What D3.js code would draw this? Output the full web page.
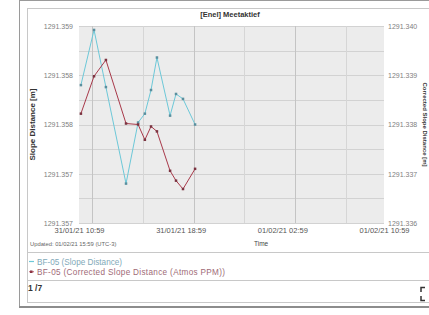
<!DOCTYPE html>
<html><head><meta charset="utf-8">
<script src="https://cdn.jsdelivr.net/npm/d3@7"></script>
<style>
body{margin:0;background:#fff;}
svg{display:block;font-family:"Liberation Sans",Arial,sans-serif;}
</style>
</head><body>
<svg id="c" width="429" height="315"></svg>
<script>
// ---- data ----
const times = ["2021-01-31T11:08","2021-01-31T12:10","2021-01-31T13:06","2021-01-31T14:41","2021-01-31T15:38","2021-01-31T16:10",
               "2021-01-31T16:39","2021-01-31T17:07","2021-01-31T18:09","2021-01-31T18:37","2021-01-31T19:10","2021-01-31T20:07"];
const slopeDistance = [1291.35840,1291.35896,1291.35838,1291.35740,1291.35802,1291.35811,
                       1291.35835,1291.35868,1291.35809,1291.35831,1291.35826,1291.35800];
const correctedSlopeDistance = [1291.33822,1291.33898,1291.33931,1291.33802,1291.33800,1291.33769,
                                1291.33796,1291.33786,1291.33706,1291.33686,1291.33669,1291.33710];
const leftTickValues = [1291.359,1291.3585,1291.358,1291.3575,1291.357];
const leftTickLabels = ["1291.359","1291.358","1291.358","1291.357","1291.357"];
const rightTickValues = [1291.340,1291.339,1291.338,1291.337,1291.336];
const rightTickLabels = ["1291.340","1291.339","1291.338","1291.337","1291.336"];
const xTickTimes = ["2021-01-31T10:59","2021-01-31T18:59","2021-02-01T02:59","2021-02-01T10:59"];
const xTickLabels = ["31/01/21 10:59","31/01/21 18:59","01/02/21 02:59","01/02/21 10:59"];
const seriesNames = ["BF-05 (Slope Distance)","BF-05 (Corrected Slope Distance (Atmos PPM))"];
const chartTitle = "[Enel] Meetaktief";
const updatedText = "Updated: 01/02/21 15:59 (UTC-3)";
const pageText = "1 /7";

// ---- layout ----
const svg = d3.select("#c");
const parse = d3.isoParse;
const P = {l:79, r:384, t:26, b:223};
const x = d3.scaleTime().domain([parse(xTickTimes[0]), parse(xTickTimes[xTickTimes.length-1])]).range([P.l,P.r]);
const yL = d3.scaleLinear().domain([1291.357,1291.359]).range([P.b,P.t]);
const yR = d3.scaleLinear().domain([1291.336,1291.340]).range([P.b,P.t]);
const cCyan = "#6cc8d8", cCyanM = "#5a8f9e", cRed = "#a8394a", cRedM = "#7b3340";

// frames
svg.append("rect").attr("x",19.5).attr("y",0.5).attr("width",420).attr("height",306).attr("fill","#fff").attr("stroke","#9a9a9a").attr("stroke-width",1);
svg.append("line").attr("x1",19).attr("x2",429).attr("y1",307).attr("y2",307).attr("stroke","#8c8c8c").attr("stroke-width",2);
svg.append("rect").attr("x",27.5).attr("y",8.5).attr("width",410).attr("height",294).attr("fill","#fff").attr("stroke","#c8c8c8");
svg.append("line").attr("x1",27).attr("x2",429).attr("y1",252.5).attr("y2",252.5).attr("stroke","#c8c8c8");
svg.append("line").attr("x1",27).attr("x2",429).attr("y1",280.5).attr("y2",280.5).attr("stroke","#c8c8c8");

// plot background
svg.append("rect").attr("x",P.l).attr("y",P.t).attr("width",P.r-P.l).attr("height",P.b-P.t).attr("fill","#ececec");

// grid
const hGrid = d3.range(0,9).map(i=>1291.357+i*0.00025);
svg.append("g").selectAll("line").data(hGrid).join("line")
  .attr("x1",P.l).attr("x2",P.r).attr("y1",d=>Math.round(yL(d))+0.5).attr("y2",d=>Math.round(yL(d))+0.5)
  .attr("stroke","#d2d2d2");
const vGrid = d3.timeHour.every(4).range(parse(xTickTimes[0]), d3.timeMinute.offset(parse(xTickTimes[xTickTimes.length-1]),1));
svg.append("g").selectAll("line").data(vGrid).join("line")
  .attr("x1",d=>Math.round(x(d))+0.5).attr("x2",d=>Math.round(x(d))+0.5).attr("y1",P.t).attr("y2",P.b)
  .attr("stroke",(d,i)=>i%2===0?"#c4c4c4":"#d6d6d6");

// axes
const axL = d3.axisLeft(yL).tickValues(leftTickValues).tickFormat((d,i)=>leftTickLabels[i]).tickSize(0).tickPadding(6);
const gL = svg.append("g").attr("transform",`translate(${P.l},0)`).call(axL);
const axR = d3.axisRight(yR).tickValues(rightTickValues).tickFormat((d,i)=>rightTickLabels[i]).tickSize(0).tickPadding(4);
const gR = svg.append("g").attr("transform",`translate(${P.r},0)`).call(axR);
const axB = d3.axisBottom(x).tickValues(xTickTimes.map(parse)).tickFormat((d,i)=>xTickLabels[i]).tickSize(0).tickPadding(5);
const gB = svg.append("g").attr("transform",`translate(0,${P.b})`).call(axB);
[gL,gR,gB].forEach(g=>{g.select(".domain").remove();g.selectAll("text").attr("font-size",7).attr("fill","#808080").attr("font-family","Liberation Sans, Arial, sans-serif");});
gB.selectAll("text").attr("fill","#555").attr("font-size",7.5);

// axis titles
svg.append("text").attr("transform",`translate(35,${(P.t+P.b)/2}) rotate(-90)`).attr("text-anchor","middle")
  .attr("font-size",8).attr("font-weight","bold").attr("fill","#333").text("Slope Distance [m]");
svg.append("text").attr("transform",`translate(423,${(P.t+P.b)/2}) rotate(90)`).attr("text-anchor","middle")
  .attr("font-size",6).attr("font-weight","bold").attr("fill","#333").text("Corrected Slope Distance [m]");
svg.append("text").attr("x",230).attr("y",17).attr("text-anchor","middle").attr("font-size",7.5).attr("font-weight","bold").attr("fill","#333").text(chartTitle);
svg.append("text").attr("x",254).attr("y",246).attr("font-size",6.5).attr("fill","#444").text("Time");
svg.append("text").attr("x",30).attr("y",246).attr("font-size",5.8).attr("fill","#666").text(updatedText);

// series
const pts1 = times.map((t,i)=>[parse(t),slopeDistance[i]]);
const pts2 = times.map((t,i)=>[parse(t),correctedSlopeDistance[i]]);
const line1 = d3.line().x(d=>x(d[0])).y(d=>yL(d[1]));
const line2 = d3.line().x(d=>x(d[0])).y(d=>yR(d[1]));
svg.append("path").attr("d",line1(pts1)).attr("fill","none").attr("stroke",cCyan).attr("stroke-width",1);
svg.append("path").attr("d",line2(pts2)).attr("fill","none").attr("stroke",cRed).attr("stroke-width",1);
svg.append("g").selectAll("rect").data(pts1).join("rect")
  .attr("x",d=>x(d[0])-1.25).attr("y",d=>yL(d[1])-1.25).attr("width",2.5).attr("height",2.5).attr("fill",cCyanM);
svg.append("g").selectAll("rect").data(pts2).join("rect")
  .attr("x",d=>x(d[0])-1.25).attr("y",d=>yR(d[1])-1.25).attr("width",2.5).attr("height",2.5).attr("fill",cRedM);

// legend
svg.append("line").attr("x1",29).attr("x2",34).attr("y1",261.5).attr("y2",261.5).attr("stroke",cCyan).attr("stroke-width",1.2);
svg.append("text").attr("x",37).attr("y",264.5).attr("font-size",8.2).attr("fill","#7fa9b8").text(seriesNames[0]);
svg.append("rect").attr("x",30).attr("y",270.5).attr("width",2.5).attr("height",2.5).attr("fill",cRedM);
svg.append("line").attr("x1",29).attr("x2",34).attr("y1",271.75).attr("y2",271.75).attr("stroke",cRed).attr("stroke-width",0.8);
svg.append("text").attr("x",37).attr("y",274.5).attr("font-size",8.2).attr("fill","#a06a76").attr("textLength",188).text(seriesNames[1]);

// page indicator
svg.append("text").attr("x",28).attr("y",291).attr("font-size",8.5).attr("font-weight","bold").attr("fill","#333").text(pageText);

// expand icon
const ic = svg.append("g").attr("stroke","#333").attr("stroke-width",1.5).attr("fill","none");
ic.append("path").attr("d","M421,292 v-4.5 h4");
ic.append("path").attr("d","M421,296 v4.5 h4");
</script>
</body></html>
